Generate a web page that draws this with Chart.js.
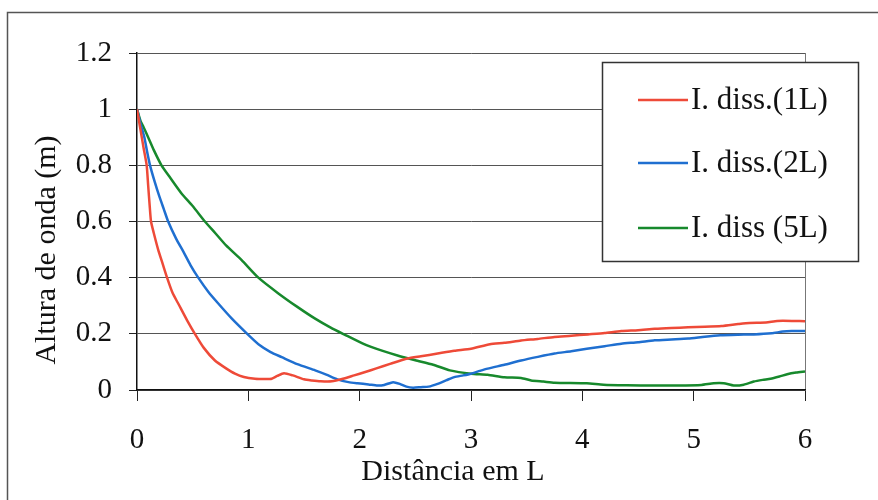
<!DOCTYPE html>
<html>
<head>
<meta charset="utf-8">
<script src="https://cdn.jsdelivr.net/npm/chart.js@4/dist/chart.umd.min.js"></script>
<style>
  html, body { margin: 0; padding: 0; background: #fff; }
  #wrap { position: relative; width: 878px; height: 500px; }
</style>
</head>
<body>
<div id="wrap"><canvas id="c" width="878" height="500"></canvas></div>
<script>
// Wave height decay along the channel for three dissipation lengths
const seriesLabels = ['I. diss.(1L)', 'I. diss.(2L)', 'I. diss (5L)'];
const xTickValues = [0, 1, 2, 3, 4, 5, 6];
const yTickLabels = ['0', '0.2', '0.4', '0.6', '0.8', '1', '1.2'];

const dist1L = [0, 0.03, 0.06, 0.087, 0.10, 0.115, 0.126, 0.15, 0.19, 0.23, 0.27, 0.32, 0.37, 0.45, 0.52, 0.60, 0.70, 0.80, 0.88, 0.96, 1.06, 1.15, 1.21, 1.26, 1.32, 1.40, 1.50, 1.57, 1.65, 1.75, 1.85, 1.95, 2.05, 2.15, 2.28, 2.43, 2.55, 2.70, 2.85, 3.00, 3.17, 3.30, 3.45, 3.60, 3.75, 3.90, 4.05, 4.20, 4.35, 4.50, 4.65, 4.80, 4.95, 5.10, 5.25, 5.40, 5.50, 5.65, 5.75, 5.90, 6.00];
const alt1L  = [1.00, 0.93, 0.86, 0.80, 0.73, 0.65, 0.60, 0.56, 0.50, 0.45, 0.40, 0.345, 0.308, 0.248, 0.20, 0.15, 0.105, 0.077, 0.058, 0.046, 0.040, 0.039, 0.040, 0.050, 0.060, 0.052, 0.038, 0.034, 0.031, 0.031, 0.040, 0.052, 0.064, 0.077, 0.094, 0.112, 0.120, 0.130, 0.140, 0.147, 0.163, 0.168, 0.176, 0.182, 0.189, 0.193, 0.198, 0.203, 0.210, 0.213, 0.218, 0.221, 0.223, 0.225, 0.228, 0.235, 0.239, 0.240, 0.246, 0.246, 0.245];

const dist2L = [0, 0.03, 0.066, 0.09, 0.117, 0.16, 0.20, 0.24, 0.28, 0.35, 0.42, 0.48, 0.55, 0.64, 0.73, 0.85, 0.99, 1.10, 1.20, 1.30, 1.44, 1.60, 1.70, 1.80, 1.90, 1.98, 2.08, 2.16, 2.22, 2.30, 2.36, 2.42, 2.48, 2.55, 2.62, 2.70, 2.78, 2.85, 2.93, 3.00, 3.08, 3.15, 3.30, 3.45, 3.60, 3.75, 3.90, 4.04, 4.20, 4.35, 4.50, 4.65, 4.80, 4.95, 5.10, 5.24, 5.40, 5.54, 5.70, 5.80, 5.88, 6.00];
const alt2L  = [1.00, 0.95, 0.90, 0.85, 0.80, 0.74, 0.69, 0.645, 0.60, 0.54, 0.49, 0.445, 0.40, 0.35, 0.308, 0.255, 0.20, 0.16, 0.135, 0.117, 0.092, 0.070, 0.055, 0.038, 0.028, 0.024, 0.020, 0.016, 0.018, 0.028, 0.022, 0.012, 0.008, 0.010, 0.012, 0.022, 0.035, 0.046, 0.052, 0.058, 0.068, 0.076, 0.090, 0.105, 0.118, 0.130, 0.138, 0.147, 0.156, 0.165, 0.170, 0.177, 0.180, 0.183, 0.190, 0.195, 0.197, 0.198, 0.202, 0.208, 0.210, 0.210];

const dist5L = [0, 0.03, 0.06, 0.10, 0.15, 0.22, 0.30, 0.40, 0.50, 0.61, 0.70, 0.80, 0.94, 1.09, 1.27, 1.44, 1.60, 1.74, 1.86, 2.04, 2.20, 2.34, 2.50, 2.66, 2.81, 3.00, 3.15, 3.30, 3.45, 3.54, 3.65, 3.75, 4.04, 4.19, 4.40, 4.65, 4.85, 5.07, 5.18, 5.27, 5.36, 5.45, 5.54, 5.62, 5.69, 5.77, 5.84, 5.92, 6.00];
const alt5L  = [1.00, 0.96, 0.935, 0.90, 0.855, 0.80, 0.755, 0.70, 0.655, 0.60, 0.56, 0.515, 0.4625, 0.40, 0.344, 0.296, 0.254, 0.222, 0.198, 0.163, 0.140, 0.123, 0.106, 0.090, 0.070, 0.058, 0.054, 0.045, 0.043, 0.034, 0.030, 0.026, 0.024, 0.019, 0.017, 0.016, 0.016, 0.018, 0.024, 0.024, 0.016, 0.019, 0.030, 0.036, 0.040, 0.048, 0.056, 0.062, 0.066];

const seriesColors = ['#ee4a38', '#1f6fd0', '#17892c'];

const FONT = "'Liberation Serif', 'Times New Roman', serif";

function pts(xs, ys) { return xs.map((x, i) => ({ x: x, y: ys[i] })); }

// Outer frame, axis titles and the boxed legend
const decorations = {
  id: 'decorations',
  beforeDraw(chart) {
    const ctx = chart.ctx;
    ctx.save();
    ctx.fillStyle = '#fff';
    ctx.fillRect(0, 0, chart.width, chart.height);
    ctx.strokeStyle = '#555';
    ctx.lineWidth = 1.5;
    ctx.beginPath();
    ctx.moveTo(7.5, 510);
    ctx.lineTo(7.5, 12.5);
    ctx.lineTo(880, 12.5);
    ctx.stroke();
    ctx.restore();
  },
  afterDraw(chart) {
    const ctx = chart.ctx;
    ctx.save();
    ctx.fillStyle = '#111';
    ctx.font = '30px ' + FONT;
    ctx.textAlign = 'center';
    ctx.textBaseline = 'middle';
    ctx.fillText('Distância em L', 453, 472);
    ctx.translate(47, 250);
    ctx.rotate(-Math.PI / 2);
    ctx.fillText('Altura de onda (m)', 0, 0);
    ctx.restore();

    // legend box
    const bx = 602, by = 62, bw = 256, bh = 199;
    ctx.save();
    ctx.fillStyle = '#fff';
    ctx.fillRect(bx, by, bw, bh);
    ctx.strokeStyle = '#333';
    ctx.lineWidth = 1.5;
    ctx.strokeRect(bx + 0.5, by + 0.5, bw, bh);
    const rows = [100, 163, 228];
    chart.data.datasets.forEach((ds, i) => {
      ctx.strokeStyle = ds.borderColor;
      ctx.lineWidth = 2.5;
      ctx.beginPath();
      ctx.moveTo(638, rows[i]);
      ctx.lineTo(688, rows[i]);
      ctx.stroke();
      ctx.fillStyle = '#111';
      ctx.font = '31px ' + FONT;
      ctx.textAlign = 'left';
      ctx.textBaseline = 'middle';
      ctx.fillText(ds.label, 691, rows[i] + 1);
    });
    ctx.restore();
  }
};

new Chart(document.getElementById('c'), {
  type: 'line',
  data: {
    datasets: [
      { label: seriesLabels[0], data: pts(dist1L, alt1L), borderColor: seriesColors[0] },
      { label: seriesLabels[1], data: pts(dist2L, alt2L), borderColor: seriesColors[1] },
      { label: seriesLabels[2], data: pts(dist5L, alt5L), borderColor: seriesColors[2] }
    ].map(d => Object.assign(d, { borderWidth: 2.5, pointRadius: 0, tension: 0.2, fill: false }))
  },
  options: {
    responsive: false,
    animation: false,
    devicePixelRatio: 1,
    layout: { padding: { left: 0, top: 53, right: 73, bottom: 0 } },
    plugins: { legend: { display: false }, tooltip: { enabled: false } },
    scales: {
      x: {
        type: 'linear',
        min: 0, max: 6,
        afterBuildTicks(scale) { scale.ticks = xTickValues.map(v => ({ value: v })); },
        afterFit(scale) { scale.height = 110; },
        ticks: {
          color: '#111',
          font: { family: FONT, size: 29 },
          padding: 22,
          maxRotation: 0,
          callback: v => String(v)
        },
        grid: {
          color: ctx => (ctx.tick && ctx.tick.value === 6 ? '#777' : 'rgba(0,0,0,0)'),
          tickColor: '#222',
          tickLength: 11,
          lineWidth: 1
        },
        border: { color: '#111', width: 1.5 }
      },
      y: {
        min: 0, max: 1.2,
        afterBuildTicks(scale) { scale.ticks = yTickLabels.map(t => ({ value: parseFloat(t) })); },
        afterFit(scale) { scale.width = 137; },
        ticks: {
          color: '#111',
          font: { family: FONT, size: 29 },
          padding: 17,
          callback: (v, i) => yTickLabels[i]
        },
        grid: {
          color: '#555',
          tickColor: '#222',
          tickLength: 8,
          lineWidth: 1
        },
        border: { color: '#111', width: 1.5 }
      }
    }
  },
  plugins: [decorations]
});
</script>
</body>
</html>
